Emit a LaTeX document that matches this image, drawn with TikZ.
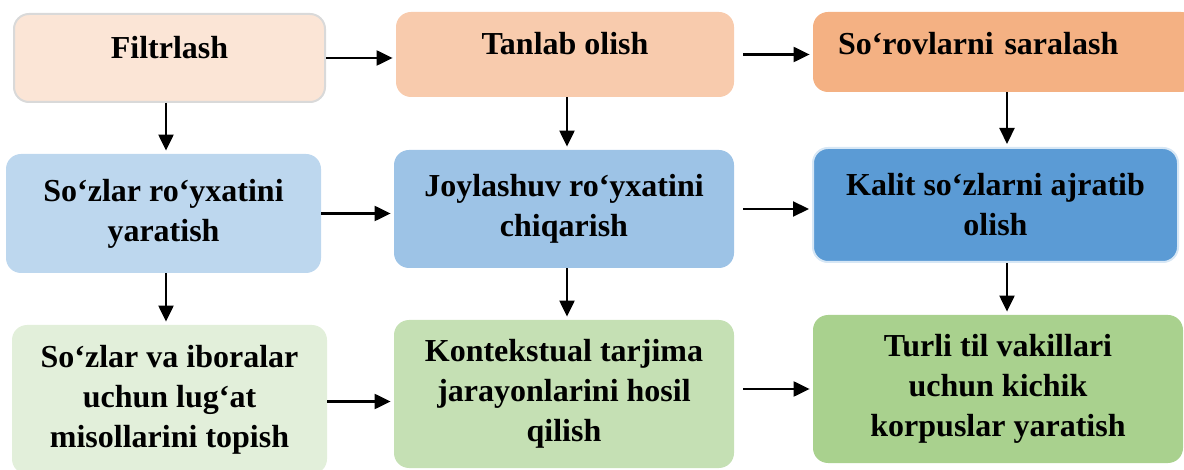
\documentclass[tikz,border=0pt]{standalone}
\usepackage{fontspec}
\setmainfont{Liberation Serif}
\usetikzlibrary{arrows.meta}
\definecolor{peachA}{HTML}{FBE5D6}
\definecolor{peachB}{HTML}{F8CBAD}
\definecolor{peachC}{HTML}{F4B183}
\definecolor{blueA}{HTML}{BDD7EE}
\definecolor{blueB}{HTML}{9DC3E6}
\definecolor{blueC}{HTML}{5B9BD5}
\definecolor{greenA}{HTML}{E2EFDA}
\definecolor{greenB}{HTML}{C5E0B4}
\definecolor{greenC}{HTML}{A9D18E}
\begin{document}
\begin{tikzpicture}[x=0.5pt,y=-0.5pt,
		box/.style={rounded corners=7.5pt,align=center,inner sep=0pt,
			font=\bfseries\fontsize{16}{20}\selectfont},
		top/.style={box,text height=21.5pt,text depth=21pt},
		arr/.style={-{Triangle[length=8pt,width=7.5pt]},line width=1.1pt,shorten >=1.5pt}]
		\useasboundingbox (0,0) rectangle (1184,470);
		% first row
		\node[top,fill=peachA,draw=gray!30,line width=1pt,minimum width=155.5pt,
			text height=22.5pt,text depth=21.5pt](filt) at (169.5,58){Filtrlash};
		\node[top,fill=peachB,minimum width=169pt](tanl) at (565,54.5){Tanlab olish};
		\node[top,fill=peachC,text depth=18.5pt,text width=166.5pt,align=left,
			inner xsep=12.5pt](sara) at (1004.5,52){So‘rovlarni saralash};
		% second row
		\node[box,fill=blueA,minimum width=157.5pt,minimum height=59.5pt](sozr) at (163.5,213.5)
			{So‘zlar ro‘yxatini\\yaratish};
		\node[box,fill=blueB,minimum width=170pt,minimum height=59pt](joyl) at (564,209)
			{Joylashuv ro‘yxatini\\chiqarish};
		\node[box,fill=blueC,draw=blueA!60,line width=1pt,minimum width=182.5pt,
			minimum height=57pt](kali) at (995.5,205){Kalit so‘zlarni ajratib\\olish};
		% third row
		\node[box,fill=greenA,minimum width=157.5pt,minimum height=74.5pt](luga) at (169.5,399.5)
			{So‘zlar va iboralar\\uchun lug‘at\\misollarini topish};
		\node[box,fill=greenB,minimum width=170pt,minimum height=74pt](kont) at (564,394)
			{Kontekstual tarjima\\jarayonlarini hosil\\qilish};
		\node[box,fill=greenC,minimum width=185pt,minimum height=74pt](korp) at (998,389)
			{Turli til vakillari\\uchun kichik\\korpuslar yaratish};
		% arrows
		\draw[arr](filt.east) -- (filt.east -| tanl.west);
		\draw[arr,shorten <=4.5pt](tanl.east) -- (tanl.east -| sara.west);
		\draw[arr](sozr.east) -- (sozr.east -| joyl.west);
		\draw[arr,shorten <=4.5pt](joyl.east) -- (joyl.east -| kali.west);
		\draw[arr]([yshift=-1pt]luga.east) -- ([yshift=-1pt]luga.east -| kont.west);
		\draw[arr,shorten <=4.5pt](kont.east |- korp.west) -- (korp.west);
		\draw[arr](filt.south -| 166,0) -- (sozr.north -| 166,0);
		\draw[arr](tanl.south -| 567,0) -- (joyl.north -| 567,0);
		\draw[arr](sara.south -| 1007,0) -- (kali.north -| 1007,0);
		\draw[arr](sozr.south -| 166,0) -- (luga.north -| 166,0);
		\draw[arr](joyl.south -| 567,0) -- (kont.north -| 567,0);
		\draw[arr](kali.south -| 1007,0) -- (korp.north -| 1007,0);
	\end{tikzpicture}
\end{document}
